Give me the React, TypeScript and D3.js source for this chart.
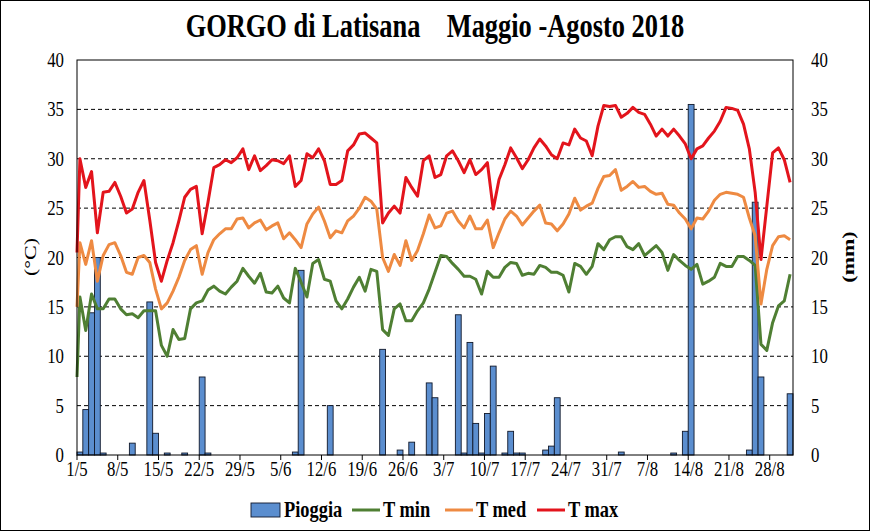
import React from "react";
import * as d3 from "d3";

const tickLabels = ["1/5","8/5","15/5","22/5","29/5","5/6","12/6","19/6","26/6","3/7","10/7","17/7","24/7","31/7","7/8","14/8","21/8","28/8"];
const yTicks = [0,5,10,15,20,25,30,35,40];

const rain = [
0.3,4.6,14.4,20.0,0.2,0,0,0,0,1.2,0,0,15.5,2.2,0,0.2,0,0,0.2,0,0,7.9,0.2,0,0,0,0,0,0,0,0,
0,0,0,0,0,0,0.3,18.7,0,0,0,0,5.0,0,0,0,0,0,0,0,0,10.7,0,0,0.5,0,1.3,0,0,7.3,
5.8,0,0,0,14.2,0.2,11.4,3.2,0.2,4.2,9.0,0,0.2,2.4,0.2,0.2,0,0,0,0.5,0.9,5.8,0,0,0,0,0,0,0,0,
0,0,0.3,0,0,0,0,0,0,0,0,0.2,0,2.4,35.5,0,0,0,0,0,0,0,0,0,0.5,25.6,7.9,0,0,0,0,6.2
];

const tMin = [
16.0,12.6,16.3,14.8,14.8,15.8,15.8,14.8,14.2,14.3,13.9,14.6,14.6,14.6,11.1,10.0,12.7,11.7,11.8,14.8,15.4,15.6,16.7,17.1,16.6,16.3,17.0,17.6,18.9,18.1,17.4,
18.4,16.5,16.4,17.1,15.9,15.4,18.9,17.5,16.0,19.4,19.8,17.8,17.6,15.6,14.8,15.8,17.0,18.0,16.6,18.8,18.6,12.7,12.1,14.8,15.3,13.6,13.6,14.6,15.4,16.8,
18.5,20.2,20.1,19.4,18.8,18.1,18.1,17.8,16.3,18.6,18.0,18.0,19.0,19.5,19.4,18.2,18.4,18.3,19.2,19.0,18.5,18.5,18.2,16.5,19.4,19.1,18.3,19.1,21.4,20.8,21.8,
22.1,22.1,21.1,20.8,21.4,20.2,20.7,21.2,20.5,18.7,20.3,19.7,19.2,18.8,19.3,17.3,17.6,18.0,19.4,19.1,19.1,20.1,20.1,19.7,19.2,11.2,10.6,13.4,15.1,15.6,18.3
];

const tMed = [
21.5,19.3,21.7,17.6,20.2,21.3,21.5,20.2,18.5,18.3,20.0,20.2,19.5,16.8,14.8,15.4,16.6,18.0,19.7,20.8,21.2,18.3,20.5,21.8,22.4,22.9,22.9,23.9,24.0,23.0,23.5,
23.8,22.8,23.2,23.5,21.9,22.5,21.8,21.0,23.4,24.4,25.1,23.7,22.0,22.7,22.5,23.7,24.2,25.0,26.1,25.7,24.9,20.0,18.6,20.3,19.2,21.7,19.7,20.7,22.4,24.3,
23.0,23.2,24.5,24.7,23.7,23.0,24.2,22.9,22.9,23.8,21.0,22.5,23.9,24.7,24.2,23.3,24.0,24.7,25.3,23.5,23.4,22.7,23.4,24.4,26.0,24.8,25.2,25.5,27.0,28.2,28.3,
28.9,26.8,27.2,27.7,27.1,27.2,26.7,26.4,26.5,25.4,25.3,24.5,23.9,22.9,24.0,23.9,24.7,25.8,26.4,26.6,26.5,26.4,26.1,24.0,22.2,15.3,18.8,21.2,22.1,22.2,21.8
];

const tMax = [
30.0,27.1,28.7,22.5,26.6,26.7,27.6,26.2,24.5,24.9,26.6,27.8,23.8,19.5,17.6,19.7,21.5,23.7,26.1,26.9,27.2,22.4,25.6,29.1,29.4,29.9,29.6,30.1,31.0,28.9,30.3,
28.8,29.3,29.9,29.8,29.5,30.3,27.2,27.8,30.5,30.1,31.0,29.8,27.4,27.4,27.8,30.8,31.4,32.5,32.6,32.1,31.6,23.5,24.5,25.2,24.5,28.1,27.1,26.2,29.8,30.3,
28.1,28.4,30.3,30.8,29.8,28.6,29.9,28.4,28.9,29.6,24.9,27.9,29.4,31.1,30.1,29.0,29.9,31.1,32.0,31.3,30.4,30.0,31.6,31.4,33.0,32.1,31.8,30.3,33.3,35.4,35.3,
35.4,34.2,34.6,35.2,34.7,34.5,33.5,32.3,33.0,32.3,33.0,32.3,31.5,30.0,31.0,31.3,32.1,32.8,33.8,35.2,35.1,34.9,33.5,31.0,26.6,19.8,25.2,30.6,31.1,29.9,27.6
];

// value where each temperature line begins, at the left edge of the plot
const tMinStart = 7.9;
const tMedStart = 15.0;
const tMaxStart = 20.5;

const SX = 0.8;
const FONT = "'Liberation Serif', 'Times New Roman', serif";

function T({ x, y, size, bold, anchor, children, rotate }: any) {
  return (
    <g transform={`translate(${x},${y}) scale(${SX},1)${rotate ? ` rotate(${rotate})` : ""}`}>
      <text
        x={0}
        y={0}
        fontFamily={FONT}
        fontSize={size}
        fontWeight={bold ? "bold" : "normal"}
        textAnchor={anchor || "start"}
        fill="#000"
        style={{ whiteSpace: "pre" }}
      >
        {children}
      </text>
    </g>
  );
}

export default function App() {
  const W = 870, H = 532;
  const left = 77, right = 793, top = 60, bottom = 455;
  const N = tMax.length;
  const x = d3.scaleLinear().domain([0, N]).range([left, right]);
  const y = d3.scaleLinear().domain([0, 40]).range([bottom, top]);
  const yR = d3.scaleLinear().domain([0, 40]).range([bottom, top]);

  const line = d3.line<[number, number]>().x((d) => d[0]).y((d) => d[1]);
  const pts = (arr: number[], start: number): [number, number][] => [
    [x(0), y(start)],
    ...arr.map((v, i) => [x(i + 0.5), y(v)] as [number, number]),
  ];

  const series = [
    { name: "T min", data: tMin, start: tMinStart, color: "#4F7F33", width: 3 },
    { name: "T med", data: tMed, start: tMedStart, color: "#EE8A42", width: 3 },
    { name: "T max", data: tMax, start: tMaxStart, color: "#E3141C", width: 3 },
  ];

  const legendY = 510;
  const LS = 23;

  return (
    <svg width={W} height={H} style={{ position: "absolute", left: 0, top: 0, background: "#fff" }}>
      <rect x={0.5} y={0.5} width={W - 1} height={H - 2} fill="#fff" stroke="#000" strokeWidth={1} />
      <T x={435} y={37} size={33} bold anchor="middle">{"GORGO di Latisana    Maggio -Agosto 2018"}</T>

      {/* gridlines */}
      {yTicks.filter((t) => t > 0 && t < 40).map((t) => (
        <line key={t} x1={left} x2={right} y1={y(t)} y2={y(t)} stroke="#000" strokeWidth={1} strokeDasharray="4,3" />
      ))}

      {/* bars */}
      {rain.map((v, i) =>
        v > 0 ? (
          <rect key={i} x={x(i)} y={yR(v)} width={x(i + 1) - x(i)} height={yR(0) - yR(v)} fill="#5B8ECF" stroke="#10182a" strokeWidth={0.9} />
        ) : null
      )}

      {/* lines */}
      {series.map((s) => (
        <path key={s.name} d={line(pts(s.data, s.start)) || ""} fill="none" stroke={s.color} strokeWidth={s.width} strokeLinejoin="round" />
      ))}

      {/* plot frame */}
      <rect x={left} y={top} width={right - left} height={bottom - top} fill="none" stroke="#000" strokeWidth={1} />

      {/* x ticks and labels */}
      {tickLabels.map((lab, k) => {
        const xx = x(k * 7);
        return (
          <g key={lab}>
            <line x1={xx} x2={xx} y1={bottom} y2={bottom + 5} stroke="#000" />
            <T x={xx} y={476} size={21} anchor="middle">{lab}</T>
          </g>
        );
      })}

      {/* y labels */}
      {yTicks.map((t) => (
        <g key={t}>
          <T x={64} y={y(t) + 7} size={21} anchor="end">{String(t)}</T>
          <T x={811} y={yR(t) + 7} size={21} anchor="start">{String(t)}</T>
        </g>
      ))}

      <T x={36} y={257} size={22} anchor="middle" rotate={-90}>{"(°C)"}</T>
      <T x={854} y={257} size={22} bold anchor="middle" rotate={-90}>{"(mm)"}</T>

      {/* legend */}
      <rect x={251} y={legendY - 7} width={29} height={14} fill="#5B8ECF" stroke="#10182a" strokeWidth={0.9} />
      <T x={284} y={legendY + 7} size={LS} bold>{"Pioggia"}</T>
      <line x1={352} x2={380} y1={legendY} y2={legendY} stroke={series[0].color} strokeWidth={3} />
      <T x={383} y={legendY + 7} size={LS} bold>{"T min"}</T>
      <line x1={445} x2={473} y1={legendY} y2={legendY} stroke={series[1].color} strokeWidth={3} />
      <T x={476} y={legendY + 7} size={LS} bold>{"T med"}</T>
      <line x1={537} x2={565} y1={legendY} y2={legendY} stroke={series[2].color} strokeWidth={3} />
      <T x={568} y={legendY + 7} size={LS} bold>{"T max"}</T>
    </svg>
  );
}
